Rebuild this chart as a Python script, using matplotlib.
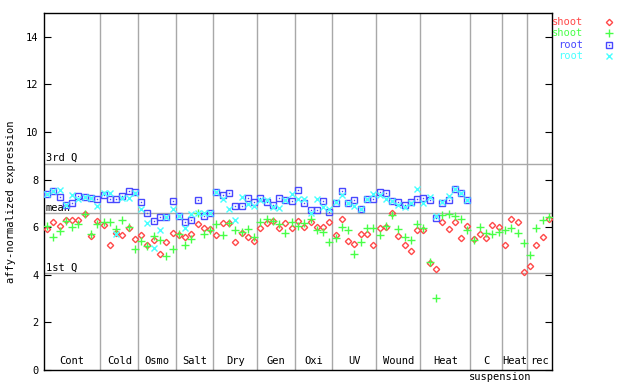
import matplotlib
matplotlib.use('Agg')
import matplotlib.pyplot as plt
import numpy as np

# conditions along the x axis and number of samples in each
groups = ['Cont', 'Cold', 'Osmo', 'Salt', 'Dry', 'Gen', 'Oxi', 'UV',
          'Wound', 'Heat', 'C', 'Heat', 'rec']
group_sizes = [9, 6, 6, 6, 7, 6, 6, 7, 7, 8, 5, 4, 4]

# reference lines
q3_value = 8.67
mean_value = 6.58
q1_value = 4.07

# shoot, replicate 1 (red) and 2 (green): all 81 samples
shoot_red = [5.91, 6.22, 6.05, 6.30, 6.29, 6.29, 6.54, 5.63, 6.26,
             6.08, 5.25, 5.77, 5.66, 5.98, 5.52,
             5.66, 5.25, 5.46, 4.86, 5.39, 5.76,
             5.66, 5.60, 5.70, 6.12, 5.95, 5.91,
             5.66, 6.16, 6.16, 5.38, 5.77, 5.59, 5.42,
             5.98, 6.16, 6.26, 5.98, 6.16, 5.95,
             6.26, 6.02, 6.22, 6.02, 6.02, 6.22,
             5.66, 6.33, 5.42, 5.28, 5.70, 5.70, 5.24,
             5.98, 6.02, 6.58, 5.63, 5.24, 5.00, 5.88,
             5.88, 4.48, 4.25, 6.22, 5.91, 6.22, 5.54, 6.05,
             5.52, 5.70, 5.54, 6.08, 6.02,
             5.24, 6.36, 6.20, 4.10,
             4.37, 5.25, 5.59, 6.35]
shoot_green = [6.05, 5.59, 5.84, 6.26, 6.00, 6.12, 6.54, 5.73, 6.12,
               6.22, 6.22, 5.93, 6.30, 6.02, 5.07,
               5.42, 5.21, 5.63, 5.46, 4.79, 5.07,
               5.70, 5.24, 5.49, 6.58, 5.70, 5.88,
               6.12, 5.66, 6.16, 5.88, 5.80, 5.94, 5.59,
               6.22, 6.33, 6.26, 6.12, 5.74, 6.22,
               6.07, 6.19, 6.33, 5.88, 5.80, 5.38,
               5.56, 6.02, 5.88, 4.86, 5.38, 5.95, 5.95,
               5.66, 6.07, 6.50, 5.94, 5.59, 5.46, 6.12,
               5.95, 4.54, 3.04, 6.50, 6.54, 6.47, 6.33, 5.88,
               5.46, 6.02, 5.74, 5.70, 5.80,
               5.90, 5.95, 5.74, 5.32,
               4.82, 5.95, 6.30, 6.42]

# root, replicate 1 (blue) and 2 (cyan): first 68 samples only
root_blue = [7.38, 7.52, 7.27, 6.92, 7.03, 7.31, 7.28, 7.21, 7.20,
             7.35, 7.20, 7.20, 7.31, 7.52, 7.48,
             7.06, 6.58, 6.26, 6.44, 6.43, 7.10,
             6.47, 6.22, 6.30, 7.14, 6.47, 6.58,
             7.48, 7.34, 7.42, 6.89, 6.89, 7.21, 7.07,
             7.21, 7.07, 6.92, 7.21, 7.13, 7.10,
             7.55, 7.00, 6.72, 6.72, 7.10, 6.64,
             7.00, 7.52, 7.00, 7.14, 6.78, 7.20, 7.20,
             7.48, 7.42, 7.10, 7.06, 6.92, 7.06, 7.20,
             7.22, 7.14, 6.40, 7.00, 7.14, 7.59, 7.42, 7.13]
root_cyan = [7.38, 7.52, 7.56, 6.92, 7.35, 7.17, 7.28, 7.21, 6.89,
             7.45, 7.45, 5.70, 7.24, 7.24, 7.45,
             6.78, 6.16, 5.14, 5.87, 6.43, 6.78,
             6.47, 5.95, 6.54, 6.58, 6.58, 6.58,
             7.48, 7.20, 6.78, 6.30, 7.28, 6.96, 6.89,
             7.14, 7.14, 6.86, 6.82, 7.14, 7.38,
             7.20, 7.20, 6.58, 7.17, 6.86, 6.75,
             7.06, 7.34, 7.00, 6.89, 6.78, 7.20, 7.38,
             7.34, 7.20, 7.10, 6.92, 6.86, 7.03, 7.62,
             7.00, 7.28, 6.45, 7.06, 7.31, 7.59, 7.42, 7.13]

RED = '#ff4848'
GREEN = '#48ff48'
BLUE = '#4848ff'
CYAN = '#48ffff'
GRID = '#a8a8a8'

plt.rcParams['font.family'] = ['DejaVu Sans Mono']
plt.rcParams['font.size'] = 7.5

fig = plt.figure(figsize=(6.4, 3.84), dpi=100)
ax = fig.add_axes([44 / 640, 14 / 384, 508 / 640, 357 / 384])

n = len(shoot_red)
x_shoot = np.arange(1, n + 1)
x_root = np.arange(1, len(root_blue) + 1)

# group separators and labels
bounds = np.concatenate([[0], np.cumsum(group_sizes)]) + 0.5
for b in bounds[1:-1]:
    ax.axvline(b, color=GRID, lw=1, zorder=1)
for name, lo, hi in zip(groups, bounds[:-1], bounds[1:]):
    ax.text((lo + hi) / 2, 0.012, name, ha='center', va='bottom',
            transform=ax.get_xaxis_transform())

# quartile / mean lines
for val, lab in [(q3_value, '3rd Q'), (mean_value, 'mean'), (q1_value, '1st Q')]:
    ax.axhline(val, color=GRID, lw=1, zorder=1)
    ax.text(0.003, val + 0.02, lab, ha='left', va='bottom',
            transform=ax.get_yaxis_transform())

# data
ax.plot(x_shoot, shoot_red, 'D', ms=3.2, mfc='none', mec=RED, mew=1, zorder=3)
ax.plot(x_shoot, shoot_green, '+', ms=5.5, mec=GREEN, mew=1, zorder=3)
ax.plot(x_root, root_blue, 's', ms=4.5, mfc='none', mec=BLUE, mew=1, zorder=3)
ax.plot(x_root, root_blue, 's', ms=1, mfc=BLUE, mec=BLUE, mew=0, zorder=3)
ax.plot(x_root, root_cyan, 'x', ms=4.5, mec=CYAN, mew=1, zorder=4)

ax.set_xlim(0.5, n + 0.5)
ax.set_ylim(0, 15)
ax.set_yticks(np.arange(0, 15, 2))
ax.set_xticks([])
ax.tick_params(axis='y', direction='in', length=5, left=True, right=True, pad=4)
for s in ax.spines.values():
    s.set_color('black')
    s.set_linewidth(1)

ax.set_ylabel('affy-normalized expression')
ax.yaxis.set_label_coords(-0.056, 0.47)

fig.text(500 / 640, 1 - 377 / 384, 'suspension', ha='center', va='center')

# legend on the right
legend_rows = [('shoot', RED, 'D', 3.2), ('shoot', GREEN, '+', 5.5),
               ('root', BLUE, 's', 4.5), ('root', CYAN, 'x', 4.5)]
for i, (lab, col, mk, ms) in enumerate(legend_rows):
    yy = 1 - (22 + i * 11.3) / 384
    xt = 552 / 640 if lab == 'shoot' else 558 / 640
    fig.text(xt, yy, lab, color=col, ha='left', va='center')
    filled = 'none' if mk in 'Ds' else col
    ax.plot([609 / 640], [yy], mk, ms=ms, mfc=filled, mec=col, mew=1,
            transform=fig.transFigure, clip_on=False)
    if mk == 's':
        ax.plot([609 / 640], [yy], 's', ms=1, mfc=col, mew=0,
                transform=fig.transFigure, clip_on=False)

fig.savefig('out.png', dpi=100)
